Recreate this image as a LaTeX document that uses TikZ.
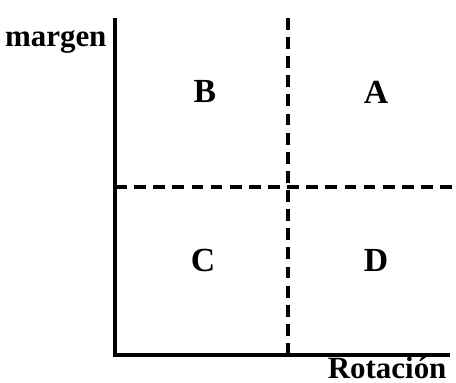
\documentclass[tikz,border=0pt]{standalone}
\usepackage{fontspec}
\setmainfont{Liberation Serif}
\usetikzlibrary{positioning}

\begin{document}
\begin{tikzpicture}[x=0.0125cm, y=-0.0125cm,
    axis/.style={line width=1.4pt},
    divider/.style={line width=1.1pt, dash pattern=on 4.2pt off 2.6pt},
    quad/.style={font=\fontsize{12}{14}\selectfont\bfseries},
    axlabel/.style={font=\fontsize{11}{13}\selectfont\bfseries, inner sep=0pt}]
    \useasboundingbox (0,0) rectangle (456,383);
    % axes
    \coordinate (origin) at (115,355);
    \coordinate (ytop) at (115,18);
    \coordinate (xend) at (450,355);
    \draw[axis] (ytop) -- (origin) -- (xend);
    % dividing lines
    \coordinate (vtop) at (288,18);
    \coordinate (vbot) at (288,355);
    \coordinate (hleft) at (115,187);
    \coordinate (hright) at (452,187);
    \draw[divider] (vtop) -- (vbot);
    \draw[divider] (hleft) -- (hright);
    % axis labels
    \node[axlabel, anchor=base east] (margen) at (107,47) {margen};
    \node[axlabel, anchor=base east] (rotacion) at (447,378) {Rotación};
    % quadrants
    \node[quad] (qB) at (205,92) {B};
    \node[quad] (qA) at (376,92) {A};
    \node[quad] (qC) at (203,260) {C};
    \node[quad] (qD) at (376,260) {D};
\end{tikzpicture}
\end{document}
